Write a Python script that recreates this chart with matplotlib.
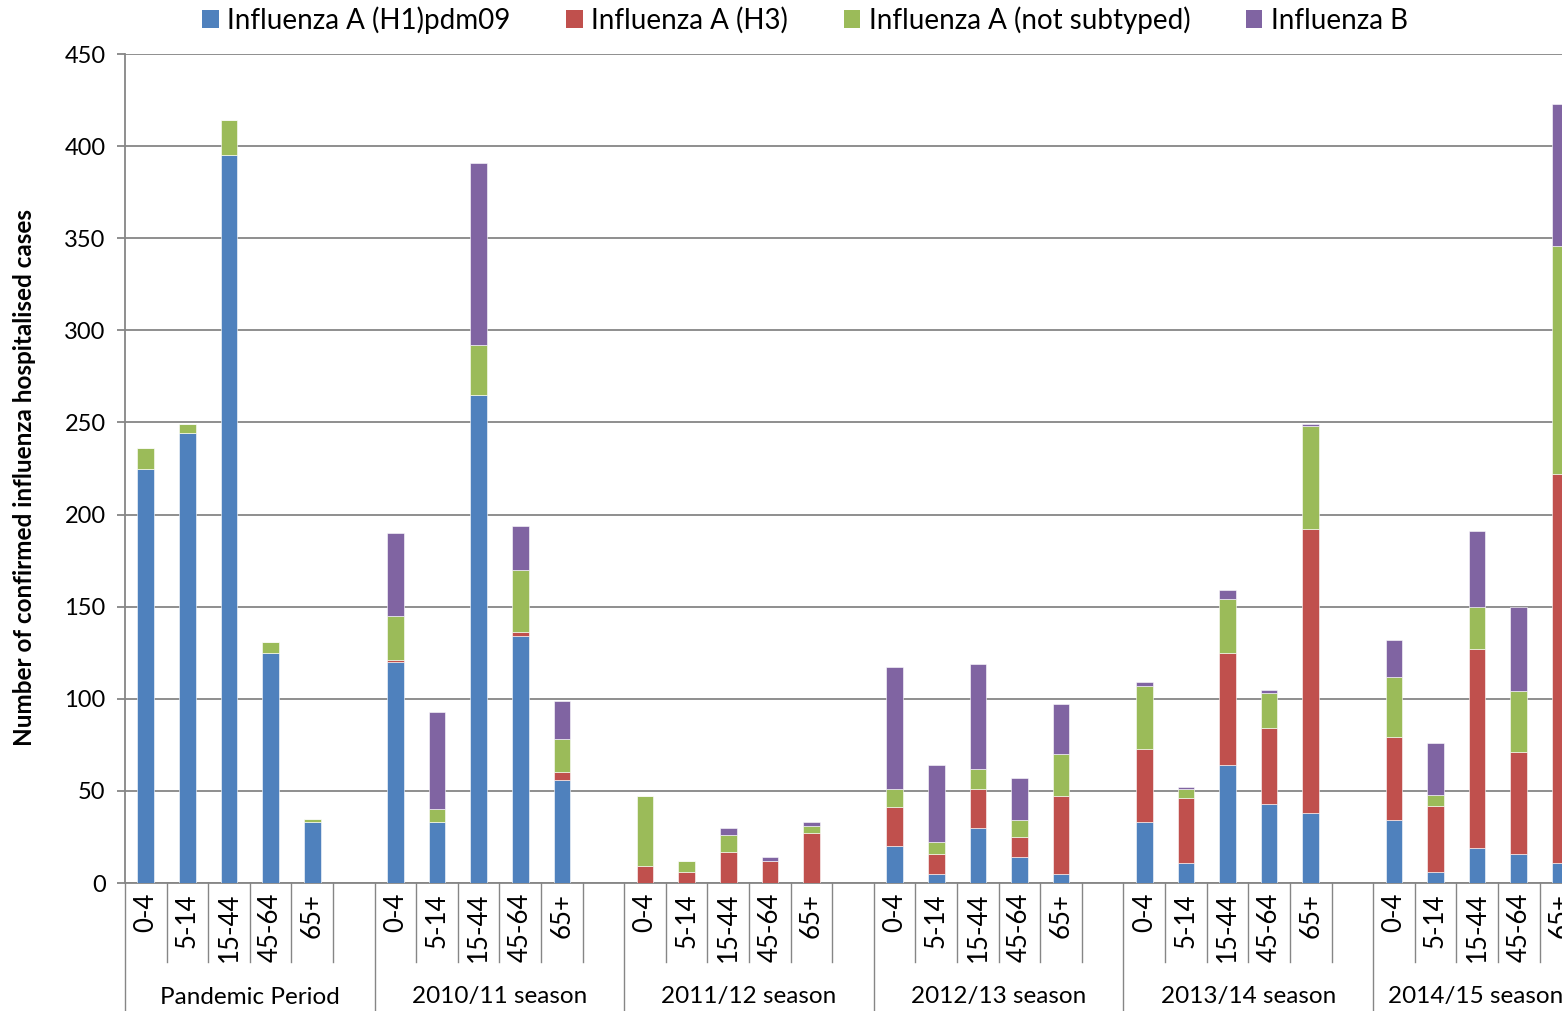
import matplotlib
matplotlib.use("Agg")
import matplotlib.pyplot as plt
import matplotlib.transforms as mtransforms
from matplotlib.patches import Patch

plt.rcParams['font.family'] = ['Lato', 'DejaVu Sans']

seasons = ["Pandemic Period", "2010/11 season", "2011/12 season",
           "2012/13 season", "2013/14 season", "2014/15 season"]
ages = ["0-4", "5-14", "15-44", "45-64", "65+"]

# segment heights, 5 age groups per season, in season order
h1pdm09 = [225, 244, 395, 125, 33,
           120, 33, 265, 134, 56,
           0, 0, 0, 0, 0,
           20, 5, 30, 14, 5,
           33, 11, 64, 43, 38,
           34, 6, 19, 16, 11]
h3 = [0, 0, 0, 0, 0,
      1, 0, 0, 2, 4,
      9, 6, 17, 12, 27,
      21, 11, 21, 11, 42,
      40, 35, 61, 41, 154,
      45, 36, 108, 55, 211]
not_subtyped = [11, 5, 19, 6, 2,
                24, 7, 27, 34, 18,
                38, 6, 9, 0, 4,
                10, 6, 11, 9, 23,
                34, 5, 29, 19, 56,
                33, 6, 23, 33, 124]
flu_b = [0, 0, 0, 0, 0,
         45, 53, 99, 24, 21,
         0, 0, 4, 2, 2,
         66, 42, 57, 23, 27,
         2, 1, 5, 2, 1,
         20, 28, 41, 46, 77]

series = [("Influenza A (H1)pdm09", h1pdm09, "#4F81BD"),
          ("Influenza A (H3)", h3, "#C0504D"),
          ("Influenza A (not subtyped)", not_subtyped, "#9BBB59"),
          ("Influenza B", flu_b, "#8064A2")]

grey = "#868686"
W, H = 1562, 1011
fig = plt.figure(figsize=(W / 100, H / 100), dpi=100)
ax = fig.add_axes([125 / W, 1 - 883 / H, (W - 125) / W, 829 / H])

slots = len(ages) + 1
x = [g * slots + a for g in range(len(seasons)) for a in range(len(ages))]
xmax = 34.04

bottom = [0] * len(x)
for name, vals, col in series:
    ax.bar(x, vals, width=0.4, bottom=bottom, color=col, label=name,
           edgecolor="white", linewidth=0.4, zorder=3)
    bottom = [b + v for b, v in zip(bottom, vals)]

ax.set_xlim(-0.5, xmax)
ax.set_ylim(0, 450)
ax.set_yticks(range(0, 451, 50))
ax.yaxis.grid(True, color=grey, linewidth=1.3, zorder=0)
ax.tick_params(axis='y', length=6, width=1.3, color=grey, labelsize=17, pad=8)
ax.set_xticks([])
for s in ["top", "right"]:
    ax.spines[s].set_visible(False)
for s in ["left", "bottom"]:
    ax.spines[s].set_color(grey)
    ax.spines[s].set_linewidth(1.3)

# category axis with two levels
trans = mtransforms.blended_transform_factory(ax.transData, ax.transAxes)
inner = -(962 - 883) / 829
outer = -(1011 - 883) / 829
for k in range(len(seasons) * slots + 1):
    xb = k - 0.5
    if xb > xmax:
        break
    y1 = outer if k % slots == 0 else inner
    ax.plot([xb, xb], [0, y1], color=grey, linewidth=1.0, transform=trans,
            clip_on=False)

for xi, lab in zip(x, ages * len(seasons)):
    if xi > xmax:
        continue
    ax.text(xi, -(893 - 883) / 829, lab, rotation=90, ha='center', va='top',
            fontsize=18.5, transform=trans)

for g, name in enumerate(seasons):
    left = g * slots - 0.5
    right = min(left + slots, xmax)
    ax.text((left + right) / 2 + (0.2 if right == xmax else 0), -(997 - 883) / 829, name,
            ha='center', va='center', fontsize=17.5, transform=trans)

fig.text(25 / W, 1 - 477 / H, "Number of confirmed influenza hospitalised cases",
         rotation=90, ha='center', va='center', fontsize=17.5, fontweight='bold')

handles = [Patch(facecolor=c, label=n) for n, _, c in series]
fig.legend(handles=handles, loc='center', bbox_to_anchor=(805 / W, 1 - 20 / H),
           ncol=4, frameon=False, fontsize=20, handlelength=0.6, handleheight=0.6,
           handletextpad=0.3, columnspacing=2.0)

fig.savefig("out.png", dpi=100)
